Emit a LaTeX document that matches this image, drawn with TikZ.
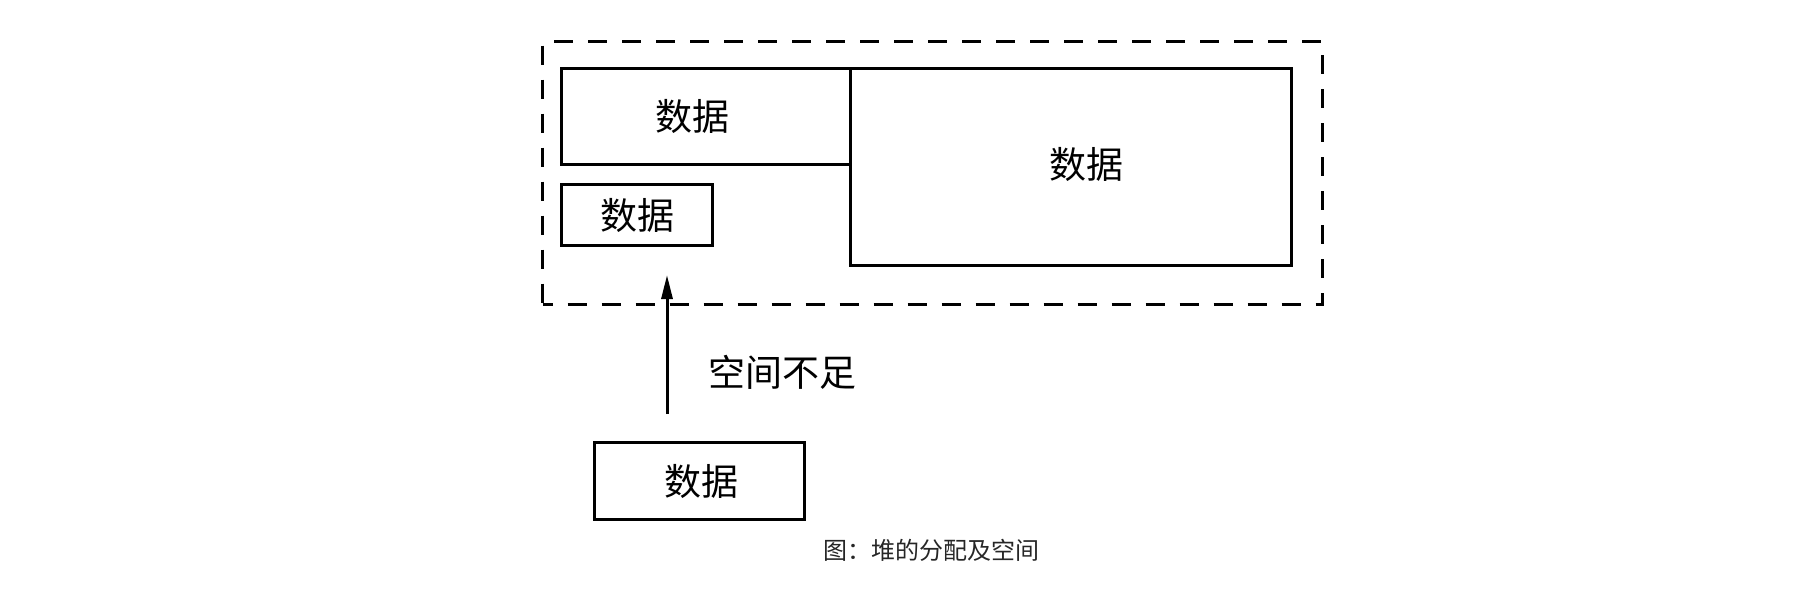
\documentclass[tikz,border=0pt]{standalone}
\usepackage{fontspec}
\setmainfont{Noto Sans CJK SC}
\usetikzlibrary{arrows.meta}
\begin{document}
\begin{tikzpicture}[x=1pt,y=-1pt,
  box/.style={draw, line width=3pt, inner sep=0pt, anchor=north west, font=\fontsize{37}{40}\selectfont},
  heapline/.style={draw, line width=3pt, dash pattern=on 19pt off 15pt, dash phase=9pt, inner sep=0pt, anchor=north west},
  arrowline/.style={line width=3pt, -{Triangle[length=24pt,width=11pt]}},
  lbl/.style={font=\fontsize{37}{40}\selectfont},
  captext/.style={font=\fontsize{24}{27}\selectfont, text=black!85}]
\useasboundingbox (0,0) rectangle (1798,606);
\node[heapline, minimum width=780pt, minimum height=263pt] (heap) at (541,40) {};
\node[box, minimum width=289pt, minimum height=96pt] (a) at (560,67) {};
\node[font=\fontsize{37}{40}\selectfont] (at) at ([xshift=-14pt]a.center) {数据};
\node[box, minimum width=441pt, minimum height=197pt] (b) at (849,67) {};
\node[font=\fontsize{37}{40}\selectfont] (bt) at ([xshift=15pt,yshift=3pt]b.center) {数据};
\node[box, minimum width=151pt, minimum height=61pt] (s) at (560,183) {数据};
\node[box, minimum width=210pt, minimum height=77pt] (d) at (593,441) {};
\node[font=\fontsize{37}{40}\selectfont] (dt) at ([xshift=2pt]d.center) {数据};
\coordinate (ax) at (667,0);
\draw[arrowline, shorten <=27pt, shorten >=28pt] (ax |- d.north) -- (ax |- s.south);
\node[lbl, anchor=west] (l) at (705,372) {空间不足};
\node[captext] (c) at (931,550) {图：堆的分配及空间};
\end{tikzpicture}
\end{document}
